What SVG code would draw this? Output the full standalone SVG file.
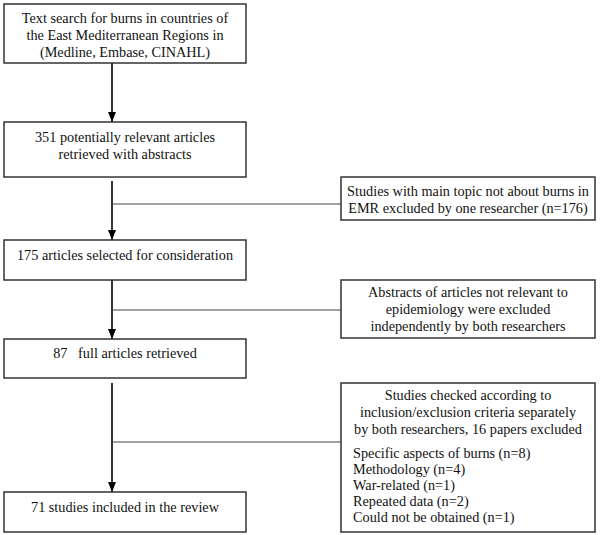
<svg xmlns="http://www.w3.org/2000/svg" width="600" height="535" viewBox="0 0 600 535">
<defs>
<style>
.box{fill:#fff;stroke:#333;stroke-width:1.5}
.t{font-family:"Liberation Serif","Times New Roman",serif;font-size:14.25px;fill:#111}
.c{text-anchor:middle}
.v{stroke:#000;stroke-width:1.6;fill:none}
.h{stroke:#444;stroke-width:1.2;fill:none}
</style>
<marker id="ah" markerWidth="10" markerHeight="10" refX="10" refY="5" orient="auto" markerUnits="userSpaceOnUse">
<path d="M0,1 L10,5 L0,9 Z" fill="#000"/>
</marker>
</defs>
<rect width="600" height="535" fill="#fff"/>
<g id="connectors">
<line class="v" x1="112" y1="63" x2="112" y2="122" marker-end="url(#ah)"/>
<line class="v" x1="112" y1="181" x2="112" y2="240" marker-end="url(#ah)"/>
<line class="v" x1="112" y1="280" x2="112" y2="339" marker-end="url(#ah)"/>
<line class="v" x1="112" y1="383" x2="112" y2="492" marker-end="url(#ah)"/>
<line class="h" x1="112" y1="204" x2="341" y2="204"/>
<line class="h" x1="112" y1="310" x2="341" y2="310"/>
<line class="h" x1="112" y1="442" x2="341" y2="442"/>
</g>
<g id="n1">
<rect class="box" x="4" y="4" width="242" height="59"/>
<text class="t c" x="125" y="23">Text search for burns in countries of</text>
<text class="t c" x="125" y="40">the East Mediterranean Regions in</text>
<text class="t c" x="125" y="57">(Medline, Embase, CINAHL)</text>
</g>
<g id="n2">
<rect class="box" x="4" y="122" width="242" height="55"/>
<text class="t c" x="125" y="142">351 potentially relevant articles</text>
<text class="t c" x="125" y="159">retrieved with abstracts</text>
</g>
<g id="n3">
<rect class="box" x="4" y="240" width="242" height="40"/>
<text class="t c" x="125" y="260">175 articles selected for consideration</text>
</g>
<g id="n4">
<rect class="box" x="4" y="339" width="242" height="39"/>
<text class="t c" x="125" y="358" xml:space="preserve">87   full articles retrieved</text>
</g>
<g id="n5">
<rect class="box" x="4" y="492" width="242" height="40"/>
<text class="t c" x="125" y="512">71 studies included in the review</text>
</g>
<g id="r1">
<rect class="box" x="341" y="177" width="254" height="43"/>
<text class="t c" x="468" y="196">Studies with main topic not about burns in</text>
<text class="t c" x="468" y="213">EMR excluded by one researcher (n=176)</text>
</g>
<g id="r2">
<rect class="box" x="341" y="280" width="254" height="58"/>
<text class="t c" x="468" y="297">Abstracts of articles not relevant to</text>
<text class="t c" x="468" y="314">epidemiology were excluded</text>
<text class="t c" x="468" y="331">independently by both researchers</text>
</g>
<g id="r3">
<rect class="box" x="341" y="383" width="254" height="149"/>
<text class="t c" x="468" y="400">Studies checked according to</text>
<text class="t c" x="468" y="417">inclusion/exclusion criteria separately</text>
<text class="t c" x="468" y="434">by both researchers, 16 papers excluded</text>
<text class="t" x="353" y="458">Specific aspects of burns (n=8)</text>
<text class="t" x="353" y="474">Methodology (n=4)</text>
<text class="t" x="353" y="490">War-related (n=1)</text>
<text class="t" x="353" y="506">Repeated data (n=2)</text>
<text class="t" x="353" y="522">Could not be obtained (n=1)</text>
</g>
</svg>
